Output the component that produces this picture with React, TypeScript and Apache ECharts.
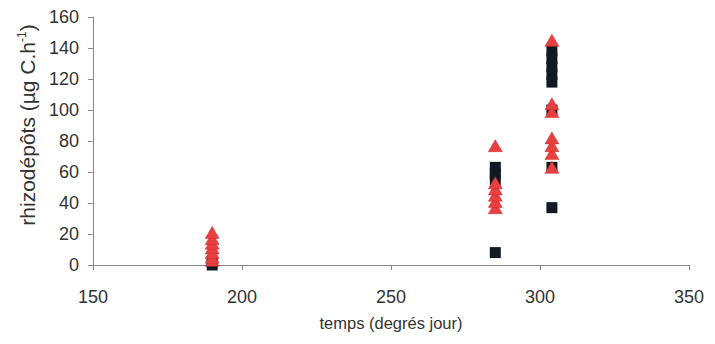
import React, { useEffect, useRef } from "react";
import * as echarts from "echarts";

const squaresX = [190, 190, 285, 285, 285, 285, 304, 304, 304, 304, 304, 304, 304, 304];
const squaresY = [0, 2, 8, 55, 59, 63, 37, 63, 100, 118, 123, 128, 133, 138];
const trianglesX = [190, 190, 190, 190, 190, 190, 190, 285, 285, 285, 285, 285, 285, 304, 304, 304, 304, 304, 304, 304];
const trianglesY = [3, 5, 8, 11, 14, 17, 21, 37, 41, 45, 49, 53, 77, 63, 72, 77, 82, 99, 104, 145];
const xTicks = { min: 150, max: 350, interval: 50 };
const yTicks = { min: 0, max: 160, interval: 20 };

export default function App() {
  const ref = useRef<HTMLDivElement>(null);
  useEffect(() => {
    if (!ref.current) return;
    const chart = echarts.init(ref.current, undefined, { renderer: "svg" });
    const font = "'Liberation Sans', Arial, sans-serif";
    chart.setOption({
      animation: false,
      textStyle: { fontFamily: font },
      grid: { left: 79, right: 13.5, top: 9, bottom: 68, containLabel: false },
      xAxis: {
        type: "value",
        min: xTicks.min,
        max: xTicks.max,
        interval: xTicks.interval,
        name: "temps (degrés jour)",
        nameLocation: "middle",
        nameGap: 49,
        nameTextStyle: { fontSize: 16.5, color: "#333", fontFamily: font },
        axisLine: { show: true, onZero: false, lineStyle: { color: "#888", width: 1 } },
        axisTick: { show: true, inside: false, length: 5, lineStyle: { color: "#888" } },
        axisLabel: { fontSize: 18, color: "#333", margin: 23, fontFamily: font },
        splitLine: { show: false },
      },
      yAxis: {
        type: "value",
        min: yTicks.min,
        max: yTicks.max,
        interval: yTicks.interval,
        name: "rhizodépôts (µg C.h{sup|-1})",
        nameLocation: "middle",
        nameGap: 55,
        nameRotate: 90,
        nameTextStyle: {
          fontSize: 21,
          color: "#333",
          fontFamily: font,
          padding: [0, 0, 0, 32],
          rich: { sup: { fontSize: 12, verticalAlign: "top", color: "#333", fontFamily: font, padding: [0, 0, 10, 0] } },
        },
        axisLine: { show: true, lineStyle: { color: "#888", width: 1 } },
        axisTick: { show: true, inside: false, length: 5, lineStyle: { color: "#888" } },
        axisLabel: { fontSize: 18, color: "#333", margin: 14, fontFamily: font },
        splitLine: { show: false },
      },
      series: [
        {
          type: "scatter",
          symbol: "rect",
          symbolSize: 11,
          itemStyle: { color: "#111a22", opacity: 1 },
          data: squaresX.map((x, i) => [x, squaresY[i]]),
          z: 2,
        },
        {
          type: "scatter",
          symbol: "triangle",
          symbolSize: [14, 12],
          itemStyle: { color: "#e8403f", borderColor: "#c92a2e", borderWidth: 0.5, opacity: 1 },
          data: trianglesX.map((x, i) => [x, trianglesY[i]]),
          z: 3,
        },
      ],
    });
    return () => chart.dispose();
  }, []);
  return <div ref={ref} style={{ width: 699, height: 328 }} />;
}
